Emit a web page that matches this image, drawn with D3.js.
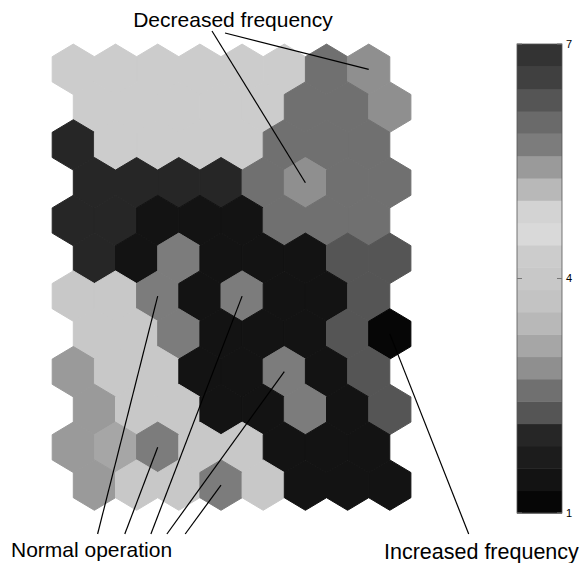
<!DOCTYPE html>
<html>
<head>
<meta charset="utf-8">
<script src="https://cdn.jsdelivr.net/npm/d3@7"></script>
<style>
  body { margin: 0; background: #fff; }
  text { font-family: "Liberation Sans", Arial, sans-serif; fill: #000; }
</style>
</head>
<body>
<div id="chart"></div>
<script>

// map size (rows x cols), hexagonal SOM lattice, odd rows shifted right
const nRows = 12;
const nCols = 8;

// unit values per row (top to bottom)
const row0  = [4.3, 4.3, 4.3, 4.3, 4.3, 4.3, 2.6, 2.9];
const row1  = [4.3, 4.3, 4.3, 4.3, 4.3, 2.6, 2.6, 2.9];
const row2  = [2.0, 4.3, 4.3, 4.3, 4.3, 2.6, 2.6, 2.6];
const row3  = [2.0, 2.0, 2.0, 2.0, 2.6, 2.9, 2.6, 2.6];
const row4  = [2.0, 2.0, 1.4, 1.4, 1.4, 2.6, 2.6, 2.6];
const row5  = [2.0, 1.4, 5.7, 1.4, 1.4, 1.4, 2.3, 2.3];
const row6  = [4.0, 4.0, 5.7, 1.4, 5.7, 1.4, 1.4, 2.3];
const row7  = [4.0, 4.0, 5.7, 1.4, 1.4, 1.4, 2.3, 1.1];
const row8  = [5.4, 4.0, 4.0, 1.4, 1.4, 5.7, 1.4, 2.3];
const row9  = [5.4, 4.0, 4.0, 1.4, 1.4, 5.7, 1.4, 2.3];
const row10 = [5.4, 3.1, 5.7, 4.0, 4.0, 1.4, 1.4, 1.4];
const row11 = [5.4, 4.0, 4.0, 5.7, 4.0, 1.4, 1.4, 1.4];
const unitValues = [row0, row1, row2, row3, row4, row5, row6, row7, row8, row9, row10, row11];

// colormap of the bar, bottom (1) to top (7)
const barColors = [
    "#060606", "#131313", "#1c1c1c", "#262626", "#555555", "#707070", "#8f8f8f",
    "#a6a6a6", "#b8b8b8", "#c3c3c3", "#c8c8c8", "#cccccc", "#d9d9d9", "#d3d3d3",
    "#b8b8b8", "#9a9a9a", "#7c7c7c", "#6a6a6a", "#555555", "#404040", "#333333"
];
const barDomain = [1, 7];
const barTicks = [1, 4, 7];

// annotations: label text and the units they point at [row, col]
const labelDecreased = "Decreased frequency";
const labelNormal = "Normal operation";
const labelIncreased = "Increased frequency";
const decreasedUnits = [[3, 5], [0, 7]];
const normalUnits = [[6, 2], [10, 2], [6, 4], [8, 5], [11, 3]];
const increasedUnits = [[7, 7]];

const width = 585, height = 563;

const svg = d3.select("#chart")
    .append("svg")
    .attr("width", width)
    .attr("height", height);

// lattice coordinates -> pixels
const x = d3.scaleLinear().domain([0, nCols - 0.5]).range([73.3, 389.8]);
const y = d3.scaleLinear().domain([0, nRows - 1]).range([69.3, 485.1]);

const color = d3.scaleQuantize().domain(barDomain).range(barColors);

const hexShape = [[0, -2/3], [0.5, -1/3], [0.5, 1/3], [0, 2/3], [-0.5, 1/3], [-0.5, -1/3]];

const cells = [];
unitValues.forEach((row, r) => {
    row.forEach((v, c) => {
        cells.push({ r: r, c: c, gx: c + (r % 2) * 0.5, v: v });
    });
});

function hexPath(d) {
    const pts = hexShape.map(p => [x(d.gx + p[0]), y(d.r + p[1])]);
    return "M" + pts.map(p => p.join(",")).join("L") + "Z";
}

svg.append("g")
    .selectAll("path")
    .data(cells)
    .join("path")
    .attr("d", hexPath)
    .attr("fill", d => color(d.v))
    .attr("stroke", d => color(d.v))
    .attr("stroke-width", 1)
    .attr("stroke-linejoin", "round");

// colour bar
const barX = 517, barW = 45;
const yBar = d3.scaleLinear().domain(barDomain).range([513, 44]);
const step = (barDomain[1] - barDomain[0]) / barColors.length;

const bar = svg.append("g");
bar.selectAll("rect")
    .data(barColors)
    .join("rect")
    .attr("x", barX)
    .attr("y", (d, i) => yBar(barDomain[0] + (i + 1) * step))
    .attr("width", barW)
    .attr("height", (d, i) => yBar(barDomain[0] + i * step) - yBar(barDomain[0] + (i + 1) * step) + 0.5)
    .attr("fill", d => d);

bar.append("rect")
    .attr("x", barX)
    .attr("y", yBar(barDomain[1]))
    .attr("width", barW)
    .attr("height", yBar(barDomain[0]) - yBar(barDomain[1]))
    .attr("fill", "none")
    .attr("stroke", "#555")
    .attr("stroke-width", 0.8);

barTicks.forEach(t => {
    bar.append("line")
        .attr("x1", barX).attr("x2", barX + 5)
        .attr("y1", yBar(t)).attr("y2", yBar(t))
        .attr("stroke", "#777");
    bar.append("line")
        .attr("x1", barX + barW - 5).attr("x2", barX + barW)
        .attr("y1", yBar(t)).attr("y2", yBar(t))
        .attr("stroke", "#777");
    bar.append("text")
        .attr("x", barX + barW + 4)
        .attr("y", yBar(t))
        .attr("dy", "0.35em")
        .style("font-size", "11px")
        .text(t);
});

// annotation lines and labels
const notes = svg.append("g")
    .attr("stroke", "#000")
    .attr("stroke-width", 1.2);

function pointer(unit, tx, ty) {
    const r = unit[0], c = unit[1];
    notes.append("line")
        .attr("x1", x(c + (r % 2) * 0.5))
        .attr("y1", y(r))
        .attr("x2", tx)
        .attr("y2", ty);
}

pointer(decreasedUnits[0], 212, 31);
pointer(decreasedUnits[1], 225, 33);

const normalEnds = [97.6, 124.8, 150.9, 166.9, 185.2];
normalUnits.forEach((u, i) => pointer(u, normalEnds[i], 534));

pointer(increasedUnits[0], 468.7, 534);

svg.append("text")
    .attr("x", 233)
    .attr("y", 27)
    .attr("text-anchor", "middle")
    .style("font-size", "21px")
    .text(labelDecreased);

svg.append("text")
    .attr("x", 11)
    .attr("y", 557)
    .style("font-size", "21px")
    .text(labelNormal);

svg.append("text")
    .attr("x", 384)
    .attr("y", 559)
    .style("font-size", "21.5px")
    .text(labelIncreased);

</script>
</body>
</html>
